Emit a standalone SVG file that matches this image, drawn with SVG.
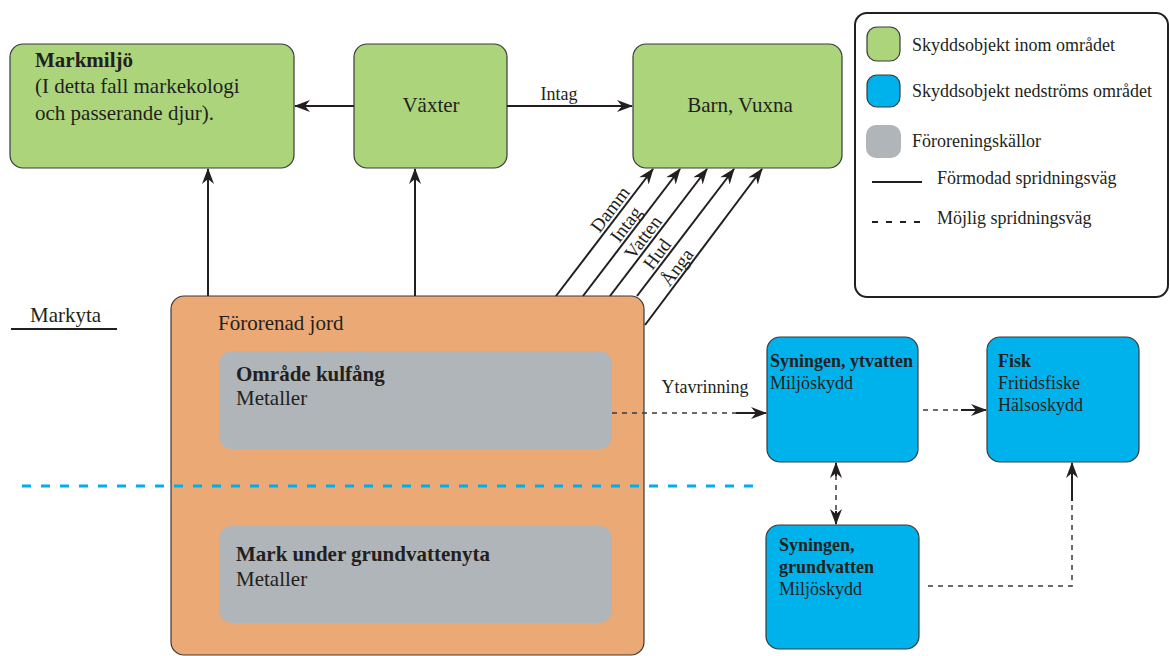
<svg xmlns="http://www.w3.org/2000/svg" width="1170" height="656" viewBox="0 0 1170 656">
<style>
text{font-family:"Liberation Serif","Times New Roman",serif;fill:#231f20}
.t21{font-size:21px}
.t18{font-size:18px}
.t19{font-size:19px}
.b{font-weight:bold}
.green{fill:#abd47b;stroke:#3a3a3a;stroke-width:1.2}
.blue{fill:#00b2ec;stroke:#3a3a3a;stroke-width:1.2}
.gray{fill:#afb5b8}
.orange{fill:#eba976;stroke:#3a3a3a;stroke-width:1.2}
.solid{stroke:#231f20;stroke-width:2;fill:none}
.dash{stroke:#3a3a3a;stroke-width:1.5;fill:none;stroke-dasharray:5 5}
</style>
<defs>
<marker id="ah" viewBox="0 0 16 12" refX="15" refY="6" markerWidth="16" markerHeight="12" orient="auto-start-reverse" markerUnits="userSpaceOnUse">
<path d="M0,0 L16,6 L0,12 L5,6 z" fill="#231f20"/>
</marker>
</defs>
<rect width="1170" height="656" fill="#ffffff"/>

<g id="markmiljo">
<rect class="green" x="10" y="44" width="284" height="124" rx="13"/>
<text class="t21 b" x="35" y="67">Markmiljö</text>
<text class="t21" x="35" y="93">(I detta fall markekologi</text>
<text class="t21" x="35" y="120">och passerande djur).</text>
</g>
<g id="vaxter">
<rect class="green" x="354" y="44" width="153" height="124" rx="13"/>
<text class="t21" x="431" y="112" text-anchor="middle">Växter</text>
</g>
<g id="barn">
<rect class="green" x="633" y="44" width="209" height="124" rx="13"/>
<text class="t21" x="740" y="112" text-anchor="middle">Barn, Vuxna</text>
</g>

<g id="markyta">
<text class="t21" x="30" y="322">Markyta</text>
<line x1="11" y1="329" x2="117" y2="329" stroke="#231f20" stroke-width="2"/>
</g>

<g id="fororenad">
<rect class="orange" x="171" y="296" width="473" height="359" rx="13"/>
<text class="t21" x="218" y="330">Förorenad jord</text>
</g>
<g id="kulfang">
<rect class="gray" x="219" y="351" width="393" height="98" rx="13"/>
<text class="t21 b" x="236" y="381">Område kulfång</text>
<text class="t21" x="236" y="405">Metaller</text>
</g>
<g id="grundvattenyta">
<rect class="gray" x="219" y="526" width="393" height="97" rx="13"/>
<text class="t21 b" x="236" y="561">Mark under grundvattenyta</text>
<text class="t21" x="236" y="586">Metaller</text>
</g>

<line id="vattenyta" x1="22" y1="486" x2="756" y2="486" stroke="#00aeef" stroke-width="3" stroke-dasharray="9 10"/>

<g id="ytvatten">
<rect class="blue" x="767" y="337" width="151" height="125" rx="13"/>
<text class="t18 b" x="770" y="367">Syningen, ytvatten</text>
<text class="t18" x="770" y="389">Miljöskydd</text>
</g>
<g id="fisk">
<rect class="blue" x="987" y="337" width="152" height="125" rx="13"/>
<text class="t18 b" x="998" y="367">Fisk</text>
<text class="t18" x="998" y="389">Fritidsfiske</text>
<text class="t18" x="998" y="411">Hälsoskydd</text>
</g>
<g id="grundvatten">
<rect class="blue" x="766" y="525" width="153" height="124" rx="13"/>
<text class="t18 b" x="779" y="551">Syningen,</text>
<text class="t18 b" x="779" y="573">grundvatten</text>
<text class="t18" x="779" y="595">Miljöskydd</text>
</g>

<g id="connectors">
<line class="solid" x1="354" y1="106" x2="295" y2="106" marker-end="url(#ah)"/>
<line class="solid" x1="507" y1="106" x2="632" y2="106" marker-end="url(#ah)"/>
<text class="t18" x="559" y="100" text-anchor="middle">Intag</text>
<line class="solid" x1="208" y1="296" x2="208" y2="169" marker-end="url(#ah)"/>
<line class="solid" x1="415" y1="296" x2="415" y2="169" marker-end="url(#ah)"/>

<line class="solid" x1="556" y1="296" x2="653" y2="169" marker-end="url(#ah)"/>
<line class="solid" x1="583" y1="296" x2="680" y2="169" marker-end="url(#ah)"/>
<line class="solid" x1="610" y1="296" x2="707" y2="169" marker-end="url(#ah)"/>
<line class="solid" x1="637" y1="296" x2="734" y2="169" marker-end="url(#ah)"/>
<line class="solid" x1="645" y1="325" x2="762" y2="169" marker-end="url(#ah)"/>
<text class="t19" text-anchor="middle" transform="translate(615,213) rotate(-53)">Damm</text>
<text class="t19" text-anchor="middle" transform="translate(631,228) rotate(-53)">Intag</text>
<text class="t19" text-anchor="middle" transform="translate(648,241) rotate(-53)">Vatten</text>
<text class="t19" text-anchor="middle" transform="translate(662,258) rotate(-53)">Hud</text>
<text class="t19" text-anchor="middle" transform="translate(682,271) rotate(-53)">Ånga</text>

<line class="dash" x1="612" y1="413" x2="737" y2="413"/>
<line class="solid" x1="736" y1="413" x2="766" y2="413" marker-end="url(#ah)"/>
<text class="t18" x="705" y="393" text-anchor="middle">Ytavrinning</text>

<line class="dash" x1="923" y1="410" x2="962" y2="410"/>
<line class="solid" x1="961" y1="410" x2="986" y2="410" marker-end="url(#ah)"/>

<line class="dash" x1="836" y1="475" x2="836" y2="512"/>
<line class="solid" x1="836" y1="476" x2="836" y2="463" marker-end="url(#ah)"/>
<line class="solid" x1="836" y1="511" x2="836" y2="524" marker-end="url(#ah)"/>

<polyline class="dash" points="928,586 1072,586 1072,500"/>
<line class="solid" x1="1072" y1="501" x2="1072" y2="463" marker-end="url(#ah)"/>
</g>

<g id="legend">
<rect x="855" y="13" width="313" height="284" rx="12" fill="#ffffff" stroke="#231f20" stroke-width="2"/>
<rect class="green" x="867" y="27" width="33" height="34" rx="10"/>
<text class="t18" x="912" y="51">Skyddsobjekt inom området</text>
<rect class="blue" x="867" y="75" width="33" height="32" rx="10"/>
<text class="t18" x="912" y="97">Skyddsobjekt nedströms området</text>
<rect class="gray" x="866" y="125" width="35" height="33" rx="10"/>
<text class="t18" x="912" y="147">Föroreningskällor</text>
<line x1="872" y1="182" x2="922" y2="182" stroke="#231f20" stroke-width="2"/>
<text class="t18" x="937" y="184">Förmodad spridningsväg</text>
<line x1="872" y1="222" x2="922" y2="222" stroke="#231f20" stroke-width="2" stroke-dasharray="6 8"/>
<text class="t18" x="937" y="224">Möjlig spridningsväg</text>
</g>
</svg>
